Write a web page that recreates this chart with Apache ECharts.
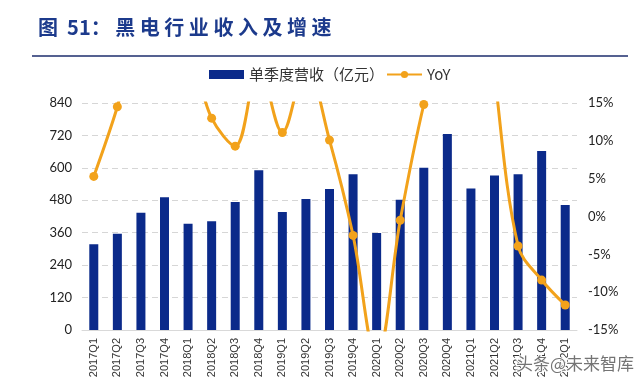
<!DOCTYPE html>
<html>
<head>
<meta charset="utf-8">
<script src="https://cdn.jsdelivr.net/npm/echarts@6/dist/echarts.min.js"></script>
<style>
html,body{margin:0;padding:0;background:#fff;}
#chart{width:640px;height:389px;}
</style>
</head>
<body>
<div id="chart"></div>
<script>
const categories = ['2017Q1','2017Q2','2017Q3','2017Q4','2018Q1','2018Q2','2018Q3','2018Q4','2019Q1','2019Q2','2019Q3','2019Q4','2020Q1','2020Q2','2020Q3','2020Q4','2021Q1','2021Q2','2021Q3','2021Q4','2022Q1'];
const revenue = [317, 356, 434, 491, 393, 402, 474, 591, 437, 485, 522, 576, 359, 482, 600, 725, 524, 572, 576, 662, 463];
const yoy = [5.3, 14.5, 26, 23, 22, 13.0, 9.3, 20, 11.1, 20, 10.1, -2.5, -19, -0.5, 14.8, 26, 46, 18.8, -3.9, -8.4, -11.7];
const leftTicks = {min: 0, max: 840, interval: 120};
const rightTicks = {min: -15, max: 15, interval: 5};
const titleText = '图  51： 黑 电 行 业 收 入 及 增 速';
const seriesNames = ['单季度营收（亿元）', 'YoY'];
const watermark = '头条@未来智库';

const chart = echarts.init(document.getElementById('chart'));
const navy = '#0b2a8a';
const orange = '#F2A21B';
chart.setOption({
  animation: false,
  backgroundColor: '#ffffff',
  title: {
    text: titleText,
    left: 33, top: 12,
    textStyle: {fontFamily: 'Noto Sans CJK SC', fontWeight: 'bold', fontSize: 20, color: '#1c3a8c'}
  },
  graphic: [
    {type: 'line', shape: {x1: 32, y1: 56, x2: 628, y2: 56}, style: {stroke: '#1c2c6c', lineWidth: 1.5}},
    {type: 'text', left: 515, top: 354, z: 100,
     style: {text: watermark, font: '17px "Noto Sans CJK SC"', fill: 'rgba(70,70,70,0.75)', stroke: '#ffffff', lineWidth: 2}}
  ],
  legend: {
    top: 62, left: 204,
    itemGap: 2,
    textStyle: {fontFamily: 'Noto Sans CJK SC', fontSize: 15, color: '#333'},
    data: [
      {name: seriesNames[0], icon: 'rect', itemStyle: {color: navy}},
      {name: seriesNames[1]}
    ],
    itemWidth: 35, itemHeight: 9
  },
  grid: {left: 82, right: 63, top: 103, bottom: 59, containLabel: false},
  xAxis: {
    type: 'category',
    data: categories,
    axisLine: {lineStyle: {color: '#d9d9d9'}},
    axisTick: {show: false},
    axisLabel: {rotate: 90, fontSize: 11, color: '#333', fontFamily: 'Liberation Sans', margin: 8, interval: 0}
  },
  yAxis: [
    {
      type: 'value', min: leftTicks.min, max: leftTicks.max, interval: leftTicks.interval,
      axisLine: {show: false}, axisTick: {show: false},
      axisLabel: {fontSize: 13, color: '#222', fontFamily: 'Lato', margin: 10},
      splitLine: {lineStyle: {color: '#d6d6d6', type: [6, 4]}}
    },
    {
      type: 'value', min: rightTicks.min, max: rightTicks.max, interval: rightTicks.interval,
      position: 'right',
      axisLine: {show: false}, axisTick: {show: false},
      axisLabel: {fontSize: 13, color: '#222', fontFamily: 'Lato', margin: 11, formatter: v => v + '%'},
      splitLine: {show: false}
    }
  ],
  series: [
    {
      name: seriesNames[0], type: 'bar', data: revenue, yAxisIndex: 0,
      barWidth: 9, itemStyle: {color: navy}
    },
    {
      name: seriesNames[1], type: 'line', data: yoy, yAxisIndex: 1,
      smooth: 0.35, clip: true,
      symbol: 'circle', symbolSize: 9,
      lineStyle: {color: orange, width: 3},
      itemStyle: {color: orange}
    }
  ]
});
</script>
</body>
</html>
